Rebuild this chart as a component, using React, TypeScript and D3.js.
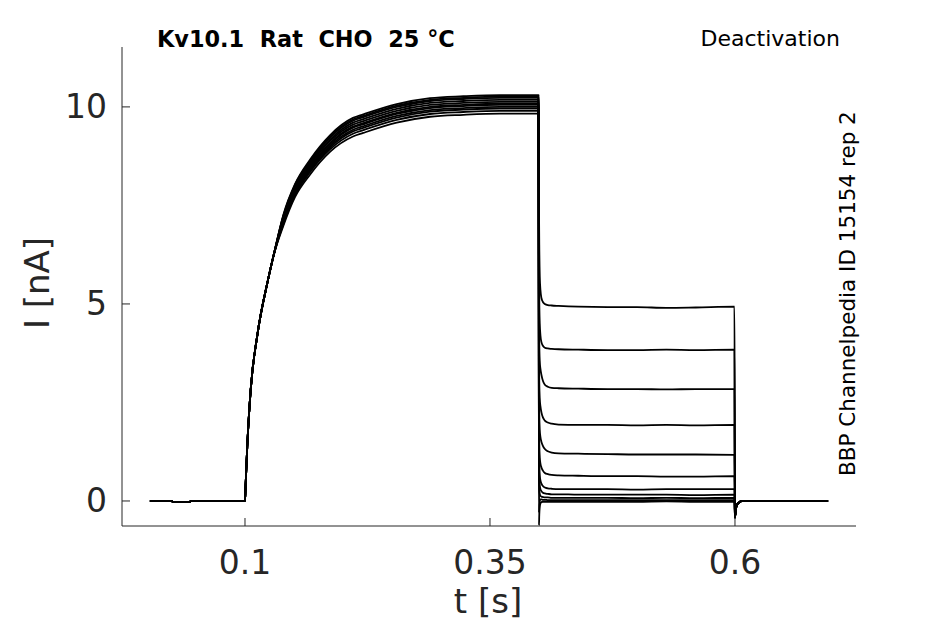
import React from 'react';
import * as d3 from 'd3';

const xTicks = [0.1, 0.35, 0.6];
const yTicks = [0, 5, 10];

const titleText = 'Kv10.1  Rat  CHO  25 °C';
const protocolText = 'Deactivation';
const sideText = 'BBP Channelpedia ID 15154 rep 2';
const xLabel = 't [s]';
const yLabel = 'I [nA]';

// holding before the step
const tPre = [0.003, 0.025, 0.027, 0.043, 0.045, 0.0995];
const preValues = [0, 0, -0.03, -0.03, 0, 0];

// activation step (0.1 - 0.4 s)
const tActivation = [0.1, 0.1005, 0.1023, 0.1058, 0.1126, 0.1235, 0.1289, 0.1391, 0.151, 0.1663, 0.1867, 0.2102, 0.2207, 0.2548, 0.2888, 0.3228, 0.36, 0.3995];
const activationSweeps = [
  [0, 0.3, 1.38, 2.82, 4.21, 5.61, 6.2, 7.26, 8.04, 8.66, 9.28, 9.72, 9.81, 10.07, 10.22, 10.27, 10.30, 10.30],
  [0, 0.3, 1.38, 2.82, 4.21, 5.61, 6.2, 7.22, 7.99, 8.60, 9.22, 9.65, 9.74, 10.00, 10.15, 10.20, 10.23, 10.23],
  [0, 0.3, 1.38, 2.82, 4.21, 5.61, 6.2, 7.19, 7.96, 8.56, 9.17, 9.60, 9.69, 9.95, 10.10, 10.15, 10.18, 10.18],
  [0, 0.3, 1.38, 2.82, 4.21, 5.61, 6.2, 7.16, 7.93, 8.52, 9.13, 9.55, 9.64, 9.90, 10.05, 10.10, 10.13, 10.13],
  [0, 0.3, 1.38, 2.82, 4.21, 5.61, 6.2, 7.13, 7.89, 8.48, 9.08, 9.50, 9.59, 9.85, 10.00, 10.05, 10.08, 10.08],
  [0, 0.3, 1.38, 2.82, 4.21, 5.61, 6.2, 7.11, 7.87, 8.46, 9.05, 9.47, 9.56, 9.82, 9.97, 10.02, 10.05, 10.05],
  [0, 0.3, 1.38, 2.82, 4.21, 5.61, 6.2, 7.08, 7.83, 8.42, 9.01, 9.42, 9.51, 9.77, 9.92, 9.97, 10.00, 10.00],
  [0, 0.3, 1.38, 2.82, 4.21, 5.61, 6.2, 7.06, 7.81, 8.38, 8.97, 9.38, 9.47, 9.73, 9.88, 9.93, 9.96, 9.96],
  [0, 0.3, 1.38, 2.82, 4.21, 5.61, 6.2, 7.02, 7.76, 8.34, 8.92, 9.32, 9.41, 9.67, 9.82, 9.87, 9.90, 9.90],
  [0, 0.3, 1.38, 2.82, 4.21, 5.61, 6.2, 6.98, 7.71, 8.28, 8.86, 9.25, 9.34, 9.60, 9.75, 9.80, 9.83, 9.83],
  [0, 0.3, 1.38, 2.82, 4.21, 5.61, 6.2, 7.24, 8.02, 8.62, 9.24, 9.68, 9.77, 10.03, 10.18, 10.23, 10.26, 10.26],
];

// tail step (0.4 - 0.6 s)
const tTail = [0.4, 0.4003, 0.4008, 0.4015, 0.4025, 0.404, 0.406, 0.409, 0.413, 0.42, 0.44, 0.47, 0.5, 0.53, 0.56, 0.5995];
const tailSweeps = [
  [7.5, 6.5, 5.7, 5.35, 5.15, 5.05, 5.0, 4.97, 4.96, 4.95, 4.93, 4.92, 4.92, 4.90, 4.91, 4.93],
  [6.0, 5.1, 4.5, 4.2, 4.03, 3.94, 3.89, 3.87, 3.86, 3.85, 3.84, 3.83, 3.83, 3.84, 3.83, 3.84],
  [4.8, 4.0, 3.55, 3.35, 3.2, 3.05, 2.95, 2.9, 2.87, 2.86, 2.85, 2.84, 2.84, 2.83, 2.84, 2.84],
  [3.8, 3.0, 2.6, 2.4, 2.25, 2.12, 2.04, 1.99, 1.96, 1.94, 1.93, 1.93, 1.92, 1.93, 1.92, 1.93],
  [3.0, 2.2, 1.8, 1.62, 1.5, 1.4, 1.32, 1.26, 1.23, 1.21, 1.2, 1.19, 1.18, 1.18, 1.18, 1.17],
  [2.2, 1.5, 1.1, 0.95, 0.85, 0.77, 0.71, 0.68, 0.66, 0.65, 0.64, 0.63, 0.63, 0.62, 0.62, 0.63],
  [1.6, 1.0, 0.65, 0.52, 0.44, 0.38, 0.34, 0.32, 0.31, 0.30, 0.30, 0.30, 0.29, 0.30, 0.30, 0.30],
  [1.0, 0.6, 0.4, 0.3, 0.25, 0.21, 0.19, 0.18, 0.17, 0.17, 0.16, 0.16, 0.16, 0.16, 0.15, 0.16],
  [0.6, 0.3, 0.18, 0.13, 0.11, 0.1, 0.09, 0.09, 0.08, 0.08, 0.08, 0.08, 0.07, 0.08, 0.07, 0.08],
  [-0.3, -0.1, 0.0, 0.04, 0.04, 0.03, 0.03, 0.02, 0.02, 0.02, 0.02, 0.02, 0.02, 0.02, 0.02, 0.02],
  [-0.62, -0.35, -0.15, -0.06, -0.03, -0.02, -0.02, -0.02, -0.02, -0.02, -0.02, -0.02, -0.02, -0.01, -0.02, -0.02],
];

// return to holding
const tEnd = [0.6, 0.6008, 0.602, 0.604, 0.607, 0.65, 0.695];
const endValues = [-0.42, -0.22, -0.1, -0.04, 0, 0, 0];

const FONT = 'DejaVu Sans';
const AXIS_COLOR = '#262626';

export default function App() {
  const W = 945;
  const H = 624;
  const x = d3.scaleLinear().domain([-0.0255, 0.7235]).range([122, 856]);
  const y = d3.scaleLinear().domain([-0.635, 11.52]).range([526, 47]);

  const line = d3
    .line<[number, number]>()
    .x((d) => x(d[0]))
    .y((d) => y(d[1]))
    .curve(d3.curveMonotoneX);

  const sweeps = activationSweeps.map((act, i) => {
    const pts: [number, number][] = [];
    tPre.forEach((t, j) => pts.push([t, preValues[j]]));
    tActivation.forEach((t, j) => pts.push([t, act[j]]));
    tTail.forEach((t, j) => pts.push([t, tailSweeps[i][j]]));
    tEnd.forEach((t, j) => pts.push([t, endValues[j]]));
    return pts;
  });

  const [x0, x1] = x.range();
  const [y0, y1] = y.range();

  return (
    <svg
      width={W}
      height={H}
      viewBox={`0 0 ${W} ${H}`}
      style={{ position: 'absolute', left: 0, top: 0, background: '#fff' }}
    >
      <defs>
        <clipPath id="plotClip">
          <rect x={x0} y={y1} width={x1 - x0} height={y0 - y1} />
        </clipPath>
      </defs>
      <rect x={0} y={0} width={W} height={H} fill="#fff" />

      <g clipPath="url(#plotClip)">
        {sweeps.map((pts, i) => (
          <path
            key={i}
            d={line(pts) || ''}
            fill="none"
            stroke="#000"
            strokeWidth={1.8}
            strokeLinejoin="round"
          />
        ))}
      </g>

      {/* spines */}
      <line x1={x0} y1={y1} x2={x0} y2={y0} stroke={AXIS_COLOR} strokeWidth={1} />
      <line x1={x0} y1={y0} x2={x1} y2={y0} stroke={AXIS_COLOR} strokeWidth={1} />

      {/* y ticks */}
      {yTicks.map((v) => (
        <g key={`y${v}`}>
          <line x1={x0} x2={x0 + 8} y1={y(v)} y2={y(v)} stroke={AXIS_COLOR} strokeWidth={1} />
          <text
            x={107}
            y={y(v) + 11}
            textAnchor="end"
            fontFamily={FONT}
            fontSize={33}
            fill={AXIS_COLOR}
          >
            {d3.format('~g')(v)}
          </text>
        </g>
      ))}

      {/* x ticks */}
      {xTicks.map((v) => (
        <g key={`x${v}`}>
          <line x1={x(v)} x2={x(v)} y1={y0} y2={y0 - 8} stroke={AXIS_COLOR} strokeWidth={1} />
          <text
            x={x(v)}
            y={574}
            textAnchor="middle"
            fontFamily={FONT}
            fontSize={33}
            fill={AXIS_COLOR}
          >
            {d3.format('~g')(v)}
          </text>
        </g>
      ))}

      {/* axis labels */}
      <text x={488} y={613} textAnchor="middle" fontFamily={FONT} fontSize={34} fill={AXIS_COLOR}>
        {xLabel}
      </text>
      <text
        transform={`translate(49,283) rotate(-90)`}
        textAnchor="middle"
        fontFamily={FONT}
        fontSize={34}
        fill={AXIS_COLOR}
      >
        {yLabel}
      </text>

      {/* title texts */}
      <text
        x={157}
        y={46.5}
        fontFamily={FONT}
        fontWeight="bold"
        fontSize={22.4}
        fill="#000"
        style={{ whiteSpace: 'pre' }}
        xmlSpace="preserve"
      >
        {titleText}
      </text>
      <text x={840} y={46} textAnchor="end" fontFamily={FONT} fontSize={22} fill="#000">
        {protocolText}
      </text>
      <text
        transform={`translate(855,476) rotate(-90)`}
        fontFamily={FONT}
        fontSize={21.5}
        fill="#000"
      >
        {sideText}
      </text>
    </svg>
  );
}
